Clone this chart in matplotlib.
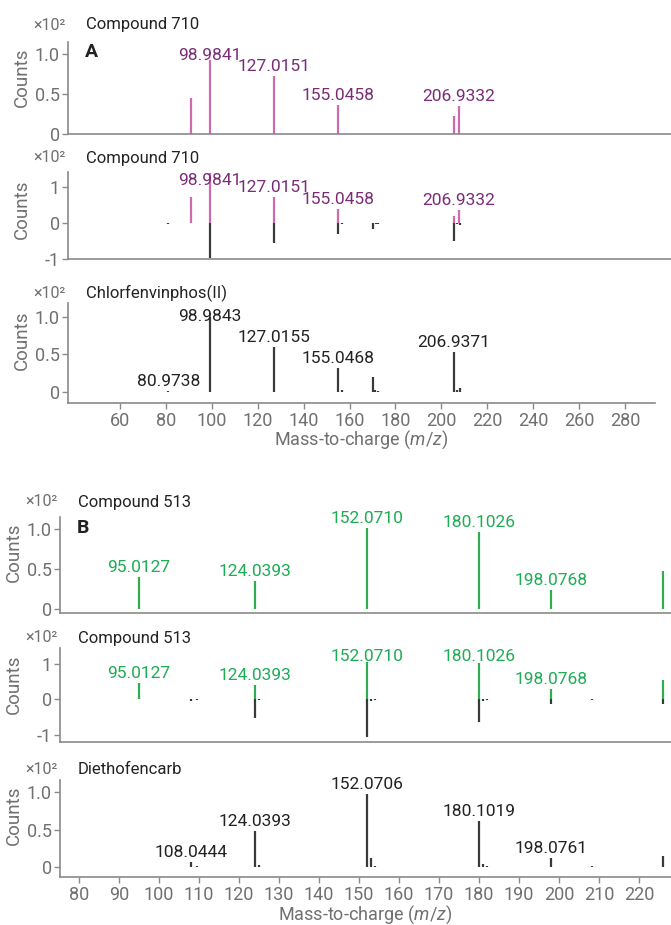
import matplotlib
matplotlib.use('Agg')
import matplotlib.pyplot as plt

plt.rcParams['font.family'] = ['Roboto', 'DejaVu Sans']
plt.rcParams['mathtext.fontset'] = 'custom'
plt.rcParams['mathtext.rm'] = 'Roboto'
plt.rcParams['mathtext.it'] = 'Roboto:italic'

# ---- panel A: Compound 710 vs Chlorfenvinphos(II) ----
a_sample_mz = [90.98, 98.9841, 127.0151, 155.0458, 205.4, 207.6]
a_sample_int = [0.45, 0.93, 0.72, 0.36, 0.22, 0.35]
a_sample_lbl = ['', '98.9841', '127.0151', '155.0458', '', '206.9332']

a_mirror_up = [0.74, 1.40, 0.72, 0.39, 0.20, 0.37]
a_lib_mz = [80.9738, 98.9843, 127.0155, 155.0468, 156.5, 170.2, 171.3, 172.5, 205.4, 206.8, 208.0]
a_lib_int = [0.01, 1.0, 0.59, 0.31, 0.02, 0.19, 0.02, 0.01, 0.53, 0.02, 0.05]
a_mirror_down = [-0.02, -0.99, -0.57, -0.31, -0.03, -0.18, -0.03, -0.03, -0.51, -0.03, -0.05]
a_lib_lbl = ['80.9738', '98.9843', '127.0155', '155.0468', '', '', '', '', '206.9371', '', '']
a_xticks = [60, 80, 100, 120, 140, 160, 180, 200, 220, 240, 260, 280]

# ---- panel B: Compound 513 vs Diethofencarb ----
b_sample_mz = [95.0127, 124.0393, 152.0710, 180.1026, 198.0768, 226.0]
b_sample_int = [0.40, 0.355, 1.01, 0.96, 0.24, 0.48]
b_sample_lbl = ['95.0127', '124.0393', '152.0710', '180.1026', '198.0768', '']

b_mirror_up = [0.44, 0.39, 1.05, 1.01, 0.28, 0.54]
b_lib_mz = [80.0, 99.3, 108.0444, 109.4, 124.0393, 125.1, 126.1, 152.0706, 152.9,
            154.0, 180.1019, 180.9, 181.9, 198.0761, 198.9, 208.2, 226.0, 226.9]
b_lib_int = [0.01, 0.01, 0.075, 0.015, 0.48, 0.03, 0.01, 0.97, 0.12,
             0.02, 0.62, 0.05, 0.02, 0.13, 0.01, 0.02, 0.155, 0.01]
b_mirror_down = [-0.01, -0.01, -0.06, -0.02, -0.52, -0.03, -0.01, -1.06, -0.06,
                 -0.02, -0.64, -0.04, -0.02, -0.14, -0.01, -0.03, -0.14, -0.01]
b_lib_lbl = ['', '', '108.0444', '', '124.0393', '', '', '152.0706', '',
             '', '180.1019', '', '', '198.0761', '', '', '', '']
b_xticks = [80, 90, 100, 110, 120, 130, 140, 150, 160, 170, 180, 190, 200, 210, 220]

PINK = '#d06aae'
PURPLE = '#7a2c78'
GREEN = '#2eae50'
GREEN_TXT = '#1eac55'
DARK = '#3a3a3a'
GREY = '#707070'
AXC = '#8a8a8a'

W, H = 671, 925
fig = plt.figure(figsize=(W / 100, H / 100), dpi=100)


def box(l, r, t, b):
    return [l / W, 1 - b / H, (r - l) / W, (b - t) / H]


def ftext(x, y, s, **kw):
    fig.text(x / W, 1 - y / H, s, **kw)


def make_axes(rect, xlim, ylim, yticks, ylabels, xticks=None):
    ax = fig.add_axes(rect)
    ax.set_xlim(xlim)
    ax.set_ylim(ylim)
    for s in ['top', 'right']:
        ax.spines[s].set_visible(False)
    for s in ['left', 'bottom']:
        ax.spines[s].set_color(AXC)
        ax.spines[s].set_linewidth(1.2)
    ax.set_yticks(yticks)
    ax.set_yticklabels(ylabels)
    ax.tick_params(axis='y', length=4, width=1, color=AXC, pad=2,
                   labelsize=13, labelcolor=GREY)
    if xticks is None:
        ax.tick_params(axis='x', bottom=False, labelbottom=False)
    else:
        ax.set_xticks(xticks)
        ax.tick_params(axis='x', length=4.5, width=1, color=AXC, pad=2,
                       labelsize=13, labelcolor=GREY)
    return ax


def stems(ax, mz, vals, color, lw=1.6):
    ax.vlines(mz, 0, vals, colors=color, lw=lw)


def peak_labels(ax, mz, vals, labels, color, cap):
    for x, v, s in zip(mz, vals, labels):
        if s:
            ax.annotate(s, (x, min(v, cap)), xytext=(0, 3.6), textcoords='offset points',
                        ha='center', va='baseline', fontsize=12.5, color=color)


def header(y, left, title, cx, letter=None, letter_y=None):
    ftext(cx, y, '×10²', ha='center', va='center', fontsize=11.5, color=GREY)
    ftext(left, y, title, ha='left', va='center', fontsize=12, color='#222222')
    if letter:
        ftext(left - 1, letter_y, letter, ha='left', va='center', fontsize=14,
              fontweight='bold', color='#222222')


def counts(x, y):
    ftext(x, y, 'Counts', ha='center', va='center', rotation=90, fontsize=13.5, color=GREY)


# ---------- A ----------
ax = make_axes(box(68, 671, 42, 134), (37.3, 300.0), (0.0, 1.15),
               [0, 0.5, 1.0], ['0', '0.5', '1.0'])
stems(ax, a_sample_mz, a_sample_int, PINK)
peak_labels(ax, a_sample_mz, a_sample_int, a_sample_lbl, PURPLE, 0.86)
header(25, 86, 'Compound 710', 49, 'A', 51.7)
counts(22, 77.5)

ax = make_axes(box(68, 671, 171.7, 259), (37.3, 300.0), (-1.014, 1.445),
               [-1, 0, 1], ['-1', '0', '1'])
stems(ax, a_sample_mz, a_mirror_up, PINK)
stems(ax, a_lib_mz, a_mirror_down, DARK)
peak_labels(ax, a_sample_mz, a_mirror_up, a_sample_lbl, PURPLE, 0.93)
header(158, 86, 'Compound 710', 49)
counts(22, 209)

ax = make_axes(box(68, 655, 303.3, 403.3), (37.3, 293.1), (-0.155, 1.176),
               [0, 0.5, 1.0], ['0', '0.5', '1.0'], a_xticks)
stems(ax, a_lib_mz, a_lib_int, DARK)
peak_labels(ax, a_lib_mz, a_lib_int, a_lib_lbl, '#222222', 0.87)
header(293, 86, 'Chlorfenvinphos(II)', 49)
counts(22, 340)
ftext(361.5, 440, r'Mass-to-charge ($\mathit{m/z}$)', ha='center', va='center',
      fontsize=13, color=GREY)

# ---------- B ----------
ax = make_axes(box(60, 671, 516.7, 613.3), (75.25, 228.0), (-0.05, 1.15),
               [0, 0.5, 1.0], ['0', '0.5', '1.0'])
stems(ax, b_sample_mz, b_sample_int, GREEN)
peak_labels(ax, b_sample_mz, b_sample_int, b_sample_lbl, GREEN_TXT, 2.0)
header(502, 78, 'Compound 513', 41.7, 'B', 527.7)
counts(13.5, 552.5)

ax = make_axes(box(60, 671, 648, 741.7), (75.25, 228.0), (-1.20, 1.44),
               [-1, 0, 1], ['-1', '0', '1'])
stems(ax, b_sample_mz, b_mirror_up, GREEN)
stems(ax, b_lib_mz, b_mirror_down, DARK)
peak_labels(ax, b_sample_mz, b_mirror_up, b_sample_lbl, GREEN_TXT, 0.92)
header(638, 78, 'Compound 513', 41.7)
counts(13.5, 684)

ax = make_axes(box(60, 671, 780, 877.3), (75.25, 228.0), (-0.133, 1.16),
               [0, 0.5, 1.0], ['0', '0.5', '1.0'], b_xticks)
stems(ax, b_lib_mz, b_lib_int, DARK)
peak_labels(ax, b_lib_mz, b_lib_int, b_lib_lbl, '#222222', 2.0)
header(770, 78, 'Diethofencarb', 41.7)
counts(13.5, 815)
ftext(365.5, 915, r'Mass-to-charge ($\mathit{m/z}$)', ha='center', va='center',
      fontsize=13, color=GREY)

fig.savefig('out.png', dpi=100, facecolor='white')
